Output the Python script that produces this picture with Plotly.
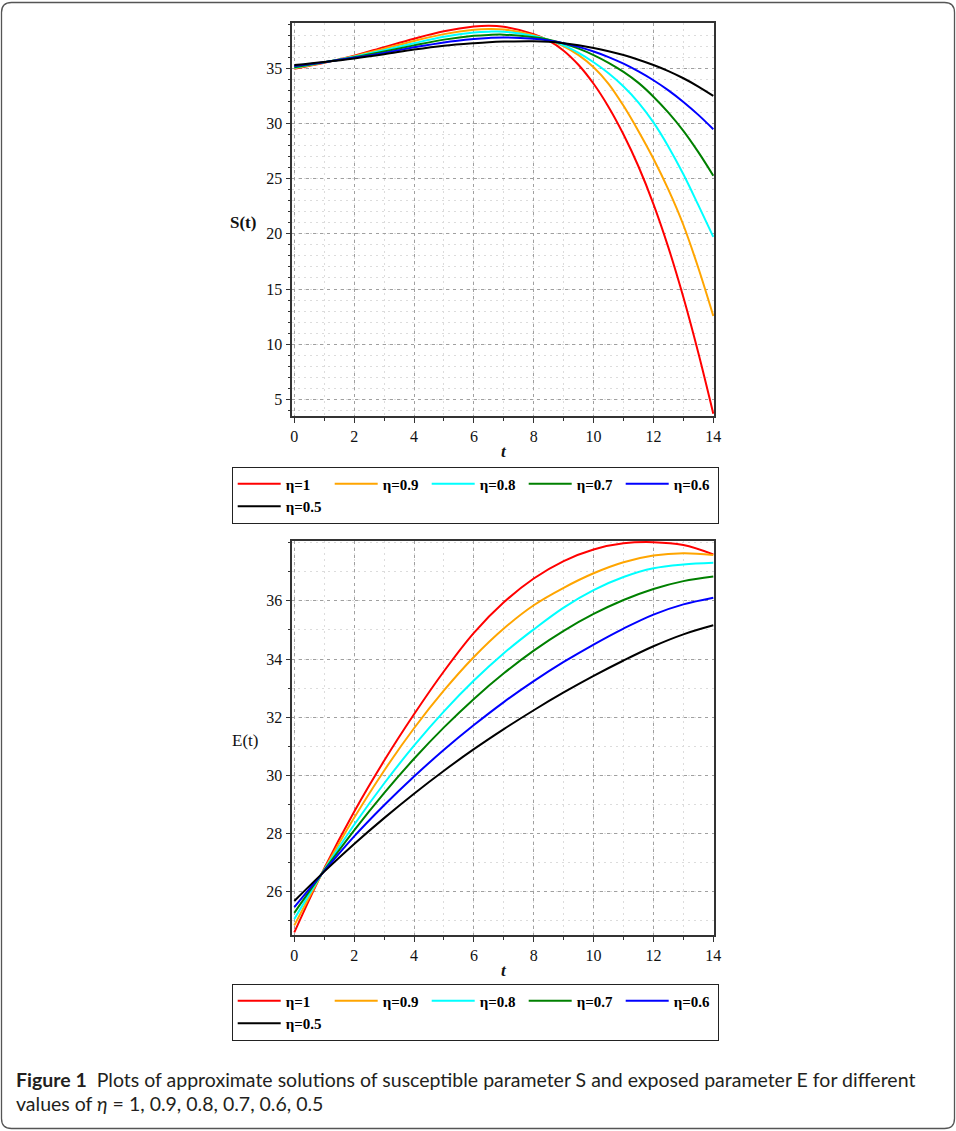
import plotly.graph_objects as go

# ---------------- data ----------------
T_S = [0, 1, 2, 3, 4, 5, 6, 6.5, 7, 8, 8.5, 9, 9.5, 10, 10.5, 11, 11.5, 12, 12.5, 13, 13.5, 14]
S_eta_1 = [34.95, 35.5, 36.15, 36.92, 37.68, 38.35, 38.78, 38.86, 38.76, 38.1, 37.5, 36.6, 35.3, 33.6,
           31.5, 29.0, 26.1, 22.7, 18.75, 14.25, 9.2, 3.7]
S_eta_09 = [35.0, 35.52, 36.1, 36.78, 37.48, 38.1, 38.5, 38.57, 38.52, 38.0, 37.55, 37.0, 36.2, 35.1,
            33.6, 31.6, 29.3, 26.8, 24.0, 20.8, 16.9, 12.56]
S_eta_08 = [35.05, 35.54, 36.05, 36.65, 37.28, 37.86, 38.24, 38.32, 38.32, 37.92, 37.58, 37.08, 36.4, 35.55,
            34.55, 33.35, 31.9, 30.1, 27.9, 25.4, 22.6, 19.73]
S_eta_07 = [35.1, 35.55, 36.0, 36.52, 37.08, 37.6, 37.95, 38.03, 38.05, 37.82, 37.6, 37.25, 36.78, 36.2,
            35.5, 34.68, 33.68, 32.43, 30.98, 29.33, 27.4, 25.27]
S_eta_06 = [35.2, 35.56, 35.95, 36.4, 36.9, 37.35, 37.65, 37.75, 37.8, 37.68, 37.53, 37.28, 36.94, 36.52,
            36.02, 35.42, 34.72, 33.92, 33.0, 31.95, 30.78, 29.48]
S_eta_05 = [35.3, 35.58, 35.9, 36.28, 36.7, 37.05, 37.28, 37.37, 37.42, 37.45, 37.4, 37.28, 37.1, 36.85,
            36.55, 36.2, 35.78, 35.3, 34.75, 34.1, 33.35, 32.5]

T_E = [0, 1, 2, 3, 4, 5, 6, 7, 8, 9, 10, 11, 12, 13, 14]
E_eta_1 = [24.6, 26.8, 28.75, 30.5, 32.1, 33.58, 34.9, 35.95, 36.77, 37.37, 37.77, 37.98, 38.02, 37.92, 37.6]
E_eta_09 = [24.84, 26.76, 28.54, 30.16, 31.62, 32.92, 34.07, 35.05, 35.85, 36.45, 36.95, 37.33, 37.56, 37.64, 37.58]
E_eta_08 = [25.06, 26.75, 28.3, 29.72, 31.02, 32.2, 33.26, 34.2, 35.02, 35.77, 36.37, 36.82, 37.12, 37.25, 37.31]
E_eta_07 = [25.27, 26.73, 28.11, 29.39, 30.57, 31.65, 32.63, 33.51, 34.29, 34.97, 35.55, 36.03, 36.41, 36.68, 36.84]
E_eta_06 = [25.47, 26.71, 27.9, 28.97, 29.96, 30.88, 31.73, 32.52, 33.24, 33.9, 34.5, 35.05, 35.53, 35.88, 36.11]
E_eta_05 = [25.68, 26.69, 27.64, 28.53, 29.37, 30.16, 30.9, 31.59, 32.24, 32.85, 33.42, 33.95, 34.44, 34.85, 35.16]

ETA_LABELS = ["η=1", "η=0.9", "η=0.8", "η=0.7", "η=0.6", "η=0.5"]
COLORS = ["#ff0000", "#ffa500", "#00ffff", "#008000", "#0000ff", "#000000"]
S_SERIES = [S_eta_1, S_eta_09, S_eta_08, S_eta_07, S_eta_06, S_eta_05]
E_SERIES = [E_eta_1, E_eta_09, E_eta_08, E_eta_07, E_eta_06, E_eta_05]

X_TICKS = [0, 2, 4, 6, 8, 10, 12, 14]
S_TICKS = [5, 10, 15, 20, 25, 30, 35]
E_TICKS = [26, 28, 30, 32, 34, 36]

# ---------------- geometry helpers ----------------
W, H = 956, 1131
ML, MR = 225, 231
GW = W - ML - MR


def px_x(p):
    return (p - ML) / GW


def px_y(p):
    return 1 - p / H


SERIF = "Liberation Serif"

fig = go.Figure()
for name, col, ys in zip(ETA_LABELS, COLORS, S_SERIES):
    fig.add_trace(go.Scatter(x=T_S, y=ys, mode="lines", name="<b>" + name + "</b>",
                             line=dict(color=col, width=2, shape="spline", smoothing=1.0),
                             xaxis="x", yaxis="y", legend="legend"))
for name, col, ys in zip(ETA_LABELS, COLORS, E_SERIES):
    fig.add_trace(go.Scatter(x=T_E, y=ys, mode="lines", name="<b>" + name + "</b>",
                             line=dict(color=col, width=2, shape="spline", smoothing=1.0),
                             xaxis="x2", yaxis="y2", legend="legend2"))

tickfont = dict(family=SERIF, size=16, color="#111")
major_grid = dict(showgrid=True, gridcolor="#a0a0a0", gridwidth=1, griddash="3px,4px")
minor_cfg = dict(dtick=1, tick0=0, ticks="outside", ticklen=3, tickcolor="#333",
                 showgrid=True, gridcolor="#dcdcdc", griddash="2px,4px", gridwidth=1)


def xaxis_cfg(anchor):
    return dict(domain=[px_x(292.3), px_x(714.3)], anchor=anchor, range=[-0.067, 14.033],
                tickvals=X_TICKS, ticks="outside", ticklen=5, tickwidth=1.2, tickcolor="#333",
                tickfont=tickfont, showline=True, linecolor="#333", linewidth=1.5, mirror=True,
                zeroline=False, minor=minor_cfg, **major_grid)


def yaxis_cfg(anchor, dom, rng, tv):
    return dict(domain=dom, anchor=anchor, range=rng, tickvals=tv, ticks="outside", ticklen=5,
                tickwidth=1.2, tickcolor="#333", tickfont=tickfont, showline=True, linecolor="#333",
                linewidth=1.5, mirror=True, zeroline=False, minor=minor_cfg, **major_grid)


legend_common = dict(xanchor="left", yanchor="top", orientation="h", bordercolor="#222",
                     borderwidth=1, bgcolor="white", itemwidth=43, entrywidth=39,
                     entrywidthmode="pixels", tracegroupgap=0,
                     font=dict(family=SERIF, size=15, color="black"))

# rounded outer border
x0, x1, y0, y1, r = 1.5, 954.5, 2.5, 1128.5, 10


def P(a, b):
    return f"{px_x(a):.5f},{px_y(b):.5f}"


border_path = (f"M{P(x0 + r, y0)} L{P(x1 - r, y0)} Q{P(x1, y0)} {P(x1, y0 + r)} "
               f"L{P(x1, y1 - r)} Q{P(x1, y1)} {P(x1 - r, y1)} L{P(x0 + r, y1)} "
               f"Q{P(x0, y1)} {P(x0, y1 - r)} L{P(x0, y0 + r)} Q{P(x0, y0)} {P(x0 + r, y0)} Z")

cap_font = dict(family="Lato", size=19.5, color="#231f20")


def ann(text, x, y, font, xanchor="center"):
    return dict(text=text, x=px_x(x), y=px_y(y), xref="paper", yref="paper",
                xanchor=xanchor, yanchor="middle", showarrow=False, font=font)


fig.update_layout(
    width=W, height=H, autosize=False,
    margin=dict(l=ML, r=MR, t=0, b=0, pad=0),
    paper_bgcolor="white", plot_bgcolor="white",
    showlegend=True,
    xaxis=xaxis_cfg("y"),
    yaxis=yaxis_cfg("x", [px_y(416), px_y(23.3)], [3.49, 39.08], S_TICKS),
    xaxis2=xaxis_cfg("y2"),
    yaxis2=yaxis_cfg("x2", [px_y(935), px_y(540.7)], [24.51, 38.07], E_TICKS),
    legend=dict(x=px_x(231.7), y=px_y(466.5), **legend_common),
    legend2=dict(x=px_x(231.7), y=px_y(983.5), **legend_common),
    shapes=[dict(type="path", xref="paper", yref="paper", path=border_path,
                 line=dict(color="#555", width=1.3), fillcolor="rgba(0,0,0,0)", layer="below")],
    annotations=[
        ann("<b>S(t)</b>", 243, 222, dict(family=SERIF, size=17, color="#111")),
        ann("<b><i>t</i></b>", 503.8, 451.7, dict(family=SERIF, size=17, color="#111")),
        ann("E(t)", 245, 740, dict(family=SERIF, size=17, color="#111")),
        ann("<b><i>t</i></b>", 503.8, 970, dict(family=SERIF, size=17, color="#111")),
        ann("<b>Figure 1</b>\u00a0\u00a0Plots of approximate solutions of susceptible parameter S and exposed parameter E for different",
            14, 1079, cap_font, xanchor="left"),
        ann("values of <i>η</i> = 1, 0.9, 0.8, 0.7, 0.6, 0.5", 14, 1103, cap_font, xanchor="left"),
    ],
)

fig.write_html("out.html", config={"displayModeBar": False},
               post_script="document.body.style.margin='0';document.body.style.overflow='hidden';")
